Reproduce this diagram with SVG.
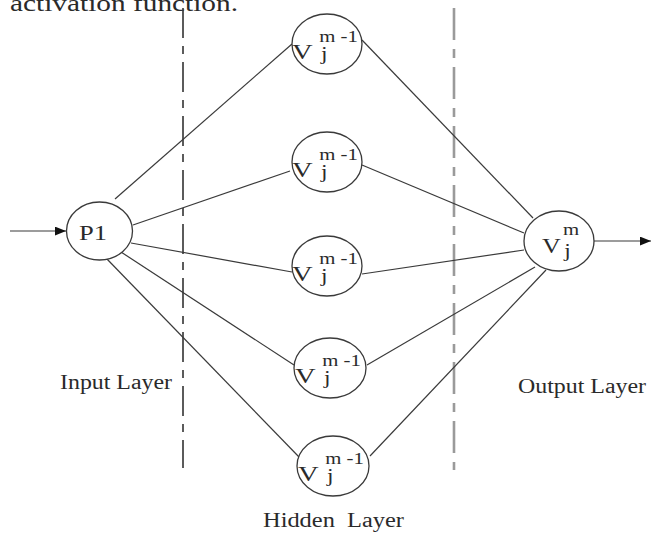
<svg xmlns="http://www.w3.org/2000/svg" width="655" height="533" viewBox="0 0 655 533">
<defs>
<style>
.bg{fill:#fff}
.edge{stroke:#3a3a3a;stroke-width:1.2;fill:none}
.node{fill:#fff;stroke:#3a3a3a;stroke-width:1.3}
.t{font-family:"Liberation Serif","Times New Roman",serif;fill:#2a2a2a}
.v{font-size:22px}
.s{font-size:18px}
.sup{font-size:16px}
.lbl{font-size:20px}
.dash1{stroke:#333;stroke-width:1.6;stroke-dasharray:30 8 8 8;fill:none}
.dash2{stroke:#9a9a9a;stroke-width:2.6;stroke-dasharray:32 9 9 9;fill:none}
</style>
<marker id="arr" viewBox="0 0 10 8" refX="10" refY="4" markerWidth="11" markerHeight="9" markerUnits="userSpaceOnUse" orient="auto">
<path d="M0,0 L10,4 L0,8 Z" fill="#111"/>
</marker>
</defs>
<rect class="bg" x="0" y="0" width="655" height="533"/>
<text class="t" x="10" y="11" font-size="24" textLength="228" lengthAdjust="spacingAndGlyphs">activation function.</text>

<g id="layer-separators">
<line class="dash1" x1="183" y1="8" x2="183" y2="468"/>
<line class="dash2" x1="454" y1="8" x2="454" y2="470"/>
</g>

<g id="connectors">
<line class="edge" x1="10" y1="231" x2="66" y2="231" marker-end="url(#arr)"/>
<line class="edge" x1="115" y1="199" x2="292" y2="44"/>
<line class="edge" x1="133" y1="225" x2="290" y2="171"/>
<line class="edge" x1="131" y1="243" x2="292" y2="272"/>
<line class="edge" x1="121" y1="252" x2="294" y2="365"/>
<line class="edge" x1="106" y1="258" x2="300" y2="458"/>
<line class="edge" x1="362" y1="40" x2="533" y2="218"/>
<line class="edge" x1="362" y1="165" x2="524" y2="233"/>
<line class="edge" x1="362" y1="274" x2="524" y2="250"/>
<line class="edge" x1="367" y1="365" x2="535" y2="267"/>
<line class="edge" x1="370" y1="456" x2="546" y2="270"/>
<line class="edge" x1="594" y1="241" x2="651" y2="241" marker-end="url(#arr)"/>
</g>

<g id="input-P1">
<ellipse class="node" cx="99.5" cy="231" rx="33" ry="29"/>
<text class="t lbl" x="79" y="240" textLength="28" lengthAdjust="spacingAndGlyphs">P1</text>
</g>

<g id="hidden-1" transform="translate(327,44)">
<ellipse class="node" cx="0" cy="0" rx="35" ry="30"/>
<g transform="scale(1.3,1)">
<text class="t v" x="-27" y="15">V</text>
<text class="t s" x="-4.6" y="16">j</text>
<text class="t sup" x="-6" y="-2">m -1</text>
</g>
</g>
<g id="hidden-2" transform="translate(327,162)">
<ellipse class="node" cx="0" cy="0" rx="35" ry="30"/>
<g transform="scale(1.3,1)">
<text class="t v" x="-27" y="15">V</text>
<text class="t s" x="-4.6" y="16">j</text>
<text class="t sup" x="-6" y="-2">m -1</text>
</g>
</g>
<g id="hidden-3" transform="translate(327,266)">
<ellipse class="node" cx="0" cy="0" rx="35" ry="30"/>
<g transform="scale(1.3,1)">
<text class="t v" x="-27" y="15">V</text>
<text class="t s" x="-4.6" y="16">j</text>
<text class="t sup" x="-6" y="-2">m -1</text>
</g>
</g>
<g id="hidden-4" transform="translate(330,368)">
<ellipse class="node" cx="0" cy="0" rx="36" ry="30"/>
<g transform="scale(1.3,1)">
<text class="t v" x="-27" y="15">V</text>
<text class="t s" x="-4.6" y="16">j</text>
<text class="t sup" x="-6" y="-2">m -1</text>
</g>
</g>
<g id="hidden-5" transform="translate(333,466)">
<ellipse class="node" cx="0" cy="0" rx="36" ry="30"/>
<g transform="scale(1.3,1)">
<text class="t v" x="-27" y="15">V</text>
<text class="t s" x="-4.6" y="16">j</text>
<text class="t sup" x="-6" y="-2">m -1</text>
</g>
</g>

<g id="output" transform="translate(559,241)">
<ellipse class="node" cx="0" cy="0" rx="35" ry="30"/>
<g transform="scale(1.3,1)">
<text class="t" font-size="20" x="-13" y="12">V</text>
<text class="t s" x="4" y="16">j</text>
<text class="t sup" x="3" y="-6">m</text>
</g>
</g>

<g id="labels">
<text class="t lbl" x="60" y="389" textLength="112" lengthAdjust="spacingAndGlyphs">Input Layer</text>
<text class="t lbl" x="518" y="393" textLength="128" lengthAdjust="spacingAndGlyphs">Output Layer</text>
<text class="t lbl" x="263" y="527" textLength="141" lengthAdjust="spacingAndGlyphs" xml:space="preserve">Hidden  Layer</text>
</g>
</svg>
